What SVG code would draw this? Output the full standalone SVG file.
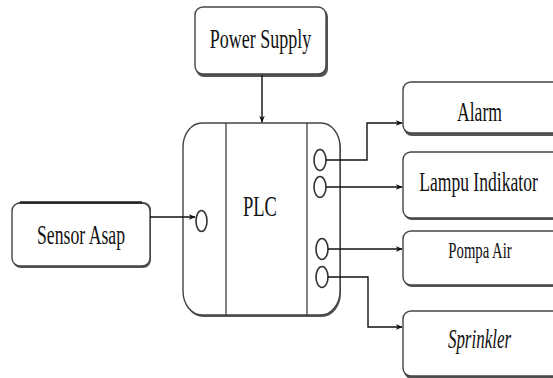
<svg xmlns="http://www.w3.org/2000/svg" width="553" height="378" viewBox="0 0 553 378">
<defs>
<marker id="arr" viewBox="0 0 10 10" refX="9" refY="5" markerWidth="7" markerHeight="7" markerUnits="userSpaceOnUse" orient="auto">
<path d="M0,1 L10,5 L0,9 L3,5 z" fill="#111"/>
</marker>
</defs>
<style>
.box{fill:#fff;stroke:#444;stroke-width:1.4}
.shadow{fill:#555;stroke:none}
.lbl{font-family:"Liberation Serif","Times New Roman","DejaVu Serif",serif;fill:#111;text-anchor:middle}
.wire{fill:none;stroke:#111;stroke-width:1.4}
.port{fill:#fff;stroke:#333;stroke-width:1.6}
.div{stroke:#333;stroke-width:1.2}
</style>
<rect width="553" height="378" fill="#fff"/>

<g id="power-supply">
<rect class="shadow" x="196" y="9" width="132" height="68" rx="8"/>
<rect class="box" x="195" y="7" width="131" height="67" rx="8"/>
<text class="lbl" font-size="18" transform="translate(260.5,48) scale(1,1.5)">Power Supply</text>
</g>

<g id="sensor-asap">
<rect class="shadow" x="13" y="202" width="138" height="66" rx="8"/>
<rect class="box" x="12" y="203" width="138" height="63" rx="8"/>
<line x1="20" y1="202.5" x2="142" y2="202.5" stroke="#222" stroke-width="2.5"/>
<text class="lbl" font-size="17.7" transform="translate(81,244) scale(1,1.5)">Sensor Asap</text>
</g>

<g id="plc">
<rect class="shadow" x="184" y="125" width="157" height="192" rx="19" ry="24"/>
<rect class="box" x="183" y="123" width="157" height="192" rx="19" ry="24"/>
<line class="div" x1="226" y1="123" x2="226" y2="315"/>
<line class="div" x1="307" y1="123" x2="307" y2="315"/>
<text class="lbl" font-size="18.5" transform="translate(260,216) scale(1,1.6)">PLC</text>
<ellipse class="port" cx="201.5" cy="221" rx="5.5" ry="10.5"/>
<ellipse class="port" cx="320" cy="160" rx="6" ry="10.5"/>
<ellipse class="port" cx="320" cy="187" rx="6" ry="10.5"/>
<ellipse class="port" cx="322" cy="249" rx="6" ry="10.5"/>
<ellipse class="port" cx="322" cy="277" rx="6" ry="10.5"/>
</g>

<g id="alarm">
<rect class="shadow" x="404" y="84" width="160" height="52" rx="8"/>
<rect class="box" x="403" y="82" width="160" height="51" rx="8"/>
<text class="lbl" font-size="17.6" transform="translate(479.5,121) scale(1,1.5)">Alarm</text>
</g>

<g id="lampu-indikator">
<rect class="shadow" x="404" y="154" width="160" height="66" rx="8"/>
<rect class="box" x="403" y="152" width="160" height="66" rx="8"/>
<text class="lbl" font-size="17.6" transform="translate(478.5,191) scale(1,1.5)">Lampu Indikator</text>
</g>

<g id="pompa-air">
<rect class="shadow" x="404" y="233" width="160" height="54" rx="8"/>
<rect class="box" x="403" y="231" width="160" height="54" rx="8"/>
<text class="lbl" font-size="14.7" transform="translate(480,258) scale(1,1.6)">Pompa Air</text>
</g>

<g id="sprinkler">
<rect class="shadow" x="404" y="313" width="160" height="66" rx="8"/>
<rect class="box" x="403" y="311" width="160" height="65" rx="8"/>
<text class="lbl" font-size="17" font-style="italic" transform="translate(479.5,348) scale(1,1.55)">Sprinkler</text>
</g>

<g id="connectors">
<path class="wire" d="M262,75 L262,122" marker-end="url(#arr)"/>
<path class="wire" d="M150,217 L195,217" marker-end="url(#arr)"/>
<path class="wire" d="M326,160 L367,160 L367,123 L402,123" marker-end="url(#arr)"/>
<path class="wire" d="M326,187 L402,187" marker-end="url(#arr)"/>
<path class="wire" d="M328,249 L402,249" marker-end="url(#arr)"/>
<path class="wire" d="M328,277 L368,277 L368,327 L402,327" marker-end="url(#arr)"/>
</g>
</svg>
